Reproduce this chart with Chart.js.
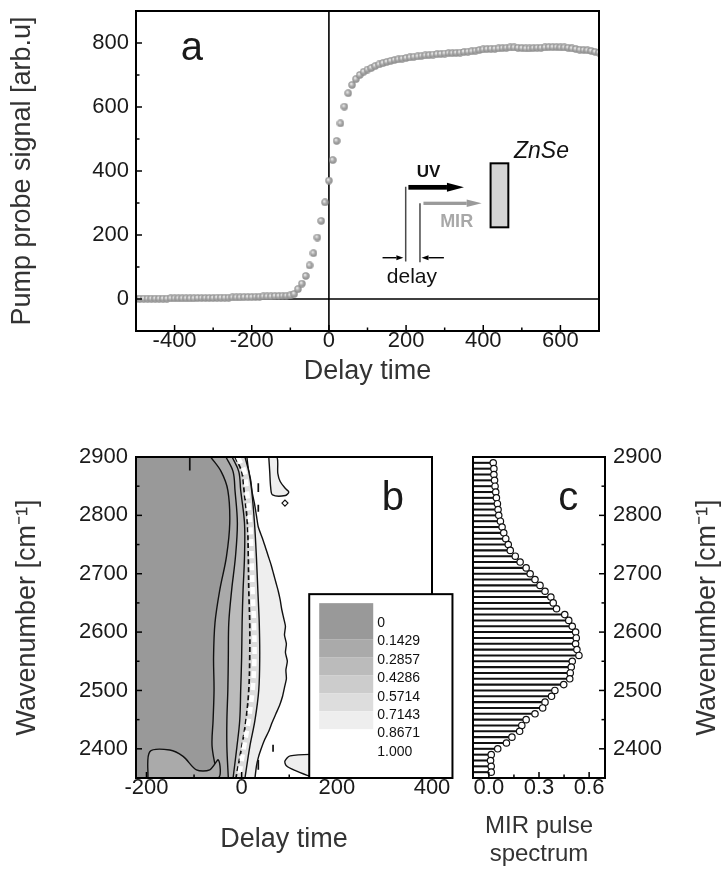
<!DOCTYPE html>
<html>
<head>
<meta charset="utf-8">
<script src="https://cdn.jsdelivr.net/npm/chart.js@4.4.1/dist/chart.umd.min.js"></script>
<style>
  body { margin: 0; background: #fff; }
  #fig { position: relative; width: 724px; height: 869px; }
  #fig canvas { position: absolute; }
</style>
</head>
<body>
<div id="fig">
  <canvas id="pumpProbe" width="724" height="400" style="left:0;top:0;width:724px;height:400px"></canvas>
  <canvas id="contour" width="460" height="469" style="left:0;top:400px;width:460px;height:469px"></canvas>
  <canvas id="spectrum" width="264" height="469" style="left:460px;top:400px;width:264px;height:469px"></canvas>
</div>
<script>
// ---- (a) pump-probe transient ----
const delayA = [-500,-490,-480,-470,-460,-450,-440,-430,-420,-410,-400,-390,-380,-370,-360,-350,-340,-330,-320,-310,
  -300,-290,-280,-270,-260,-250,-240,-230,-220,-210,-200,-190,-180,-170,-160,-150,-140,-130,-120,-110,
  -100,-90,-80,-70,-60,-50,-40,-30,-20,-10,0,10,20,30,40,50,60,70,80,90,
  100,110,120,130,140,150,160,170,180,190,200,210,220,230,240,250,260,270,280,290,
  300,310,320,330,340,350,360,370,380,390,400,410,420,430,440,450,460,470,480,490,
  500,510,520,530,540,550,560,570,580,590,600,610,620,630,640,650,660,670,680,690,700];
const signalA = [1,1,1,1,1,1,1,1,1,2,2,2,2,2,2,2,3,3,3,3,
  3,4,4,4,4,5,5,5,6,6,6,7,7,8,8,8,9,9,10,10,
  11,16,31,48,72,105,143,192,244,302,370,434,494,549,601,643,669,687,700,710,
  717,722,728,733,737,741,744,747,749,751,753,755,757,758,760,761,762,764,765,766,
  767,768,768,769,770,772,773,774,776,778,780,781,782,782,783,784,785,786,786,785,
  784,783,783,784,785,785,786,787,787,787,786,786,785,783,781,779,778,777,775,772,770];
const delayTicksA = [-400, -200, 0, 200, 400, 600];
const signalTicksA = [0, 200, 400, 600, 800];

// ---- (b) contour map ----
const delayTicksB = [-200, 0, 200, 400];
const waveTicks = [2400, 2500, 2600, 2700, 2800, 2900];
// wavenumber rows at which the contour lines were traced
const contourWave = [2900, 2875, 2843, 2787, 2729, 2672, 2616, 2557, 2501, 2449, 2403, 2350];
const level1Delay = [-65, -43, -29, -25, -32, -46, -56, -59, -58, -60, -62, -50];
const level2Delay = [-33, -18, -14, -9, -13, -21, -27, -28, -29, -31, -31, -28];
const level3Delay = [-20, -6, -2, 6, 6, 3, 1, 0, -2, -4, -10, -18];
const level4Delay = [-14, 0, 5, 12, 14, 15, 17, 17, 15, 9, 0, -12];
const ridgeDelay = [-8, 6, 11, 18, 21, 23, 26, 27, 23, 15, 5, -6];
const level5Delay = [7, 15, 21, 27, 31, 34, 37, 38, 36, 28, 17, 7];
const edgeWave = [2900, 2880, 2860, 2840, 2820, 2800, 2780, 2760, 2745, 2730, 2715, 2700, 2685, 2670, 2655, 2640, 2625, 2610,
  2595, 2580, 2565, 2550, 2535, 2520, 2505, 2490, 2475, 2460, 2445, 2430, 2415, 2400, 2385, 2370, 2350];
const edgeDelay = [11, 14, 19, 22, 27, 31, 35, 44, 50, 56, 62, 67, 72, 77, 81, 84, 88, 92,
  90, 94, 92, 96, 93, 94, 90, 86, 80, 72, 64, 57, 48, 41, 35, 31, 28];
const upperIsland = [[57, 2900], [74, 2900], [76, 2872], [81, 2858], [92, 2846], [99, 2840], [92, 2834], [65, 2835], [61, 2848], [59, 2875], [57, 2900]];
const lowerIsland = [[165, 2391], [102, 2388], [91, 2379], [94, 2371], [112, 2363], [144, 2353], [165, 2351], [165, 2391]];
const cornerPatch = [[-197, 2350], [-193, 2395], [-151, 2398], [-123, 2387], [-95, 2364], [-67, 2364], [-49, 2381], [-50, 2350], [-197, 2350]];
const strokes = [[[-109, 2900], [-109, 2877]], [[35, 2855], [35, 2840]], [[35, 2818], [35, 2806]], [[66, 2407], [66, 2395]], [[35, 2381], [35, 2364]]];
const speck = [[91, 2821]];
const levelLabels = ['0', '0.1429', '0.2857', '0.4286', '0.5714', '0.7143', '0.8671', '1.000'];
const levelColors = ['#999999', '#aaaaaa', '#bbbbbb', '#cccccc', '#dddddd', '#eeeeee'];

// ---- (c) MIR pulse spectrum ----
const spectrumWave = [2890, 2880, 2870, 2860, 2850, 2840, 2830, 2820, 2810, 2800, 2790, 2780, 2770, 2760, 2750, 2740, 2730, 2720,
  2710, 2700, 2690, 2680, 2670, 2660, 2650, 2640, 2630, 2620, 2610, 2600, 2590, 2580, 2570, 2560, 2550, 2540,
  2530, 2520, 2510, 2500, 2490, 2480, 2470, 2460, 2450, 2440, 2430, 2420, 2410, 2400, 2390, 2380, 2370, 2360];
const spectrumValue = [0.026, 0.030, 0.030, 0.034, 0.037, 0.041, 0.045, 0.051, 0.055, 0.059, 0.069, 0.079, 0.089, 0.101, 0.116, 0.128, 0.158, 0.187,
  0.223, 0.247, 0.276, 0.306, 0.336, 0.371, 0.385, 0.405, 0.454, 0.478, 0.499, 0.519, 0.523, 0.519, 0.527, 0.539, 0.499, 0.493,
  0.487, 0.484, 0.448, 0.395, 0.375, 0.336, 0.322, 0.276, 0.223, 0.197, 0.184, 0.138, 0.105, 0.053, 0.014, 0.010, 0.014, 0.014];
const spectrumTicks = [0, 0.3, 0.6];

const FONT = "'Liberation Sans', Arial, Helvetica, sans-serif";
Chart.defaults.font.family = FONT;
Chart.defaults.color = '#1a1a1a';

const delayMinB = -222;
const specMin = -0.095;

// shaded grey ball used as the marker in (a)
function makeSphere(d) {
  const c = document.createElement('canvas');
  c.width = d; c.height = d;
  const g = c.getContext('2d');
  const r = d / 2;
  const grad = g.createRadialGradient(r * 0.75, r * 0.7, 0.3, r, r, r);
  grad.addColorStop(0, '#eeeeee');
  grad.addColorStop(0.45, '#ababab');
  grad.addColorStop(1, '#858585');
  g.fillStyle = grad;
  g.beginPath();
  g.arc(r, r, r - 0.3, 0, Math.PI * 2);
  g.fill();
  return c;
}

function linearAxis(min, max, values, fmt, pad, extra) {
  const fit = extra.afterFit;
  return Object.assign({
    type: 'linear', min, max, offset: false,
    afterBuildTicks: s => { s.ticks = values.map(v => ({ value: v })); },
    grid: { display: false, drawTicks: false, offset: false },
    border: { display: false },
    ticks: { font: { size: 22, lineHeight: 1 }, color: '#1a1a1a', autoSkip: false, maxRotation: 0, padding: pad, callback: fmt }
  }, extra, {
    // keep the plot box where the layout puts it
    afterFit: s => {
      fit(s);
      s.paddingTop = 0; s.paddingBottom = 0; s.paddingLeft = 0; s.paddingRight = 0;
    }
  });
}

function axisTitle(text, padding, size) {
  return { display: true, text, color: '#333', font: { size: size || 27 }, padding };
}

const asLabel = v => String(v);

// box, inward ticks and optional zero lines
const framePlugin = {
  id: 'frame',
  beforeDatasetsDraw(chart, args, opts) {
    if (!opts.zeroLines) return;
    const { ctx, chartArea: a, scales: { x, y } } = chart;
    ctx.save();
    ctx.strokeStyle = '#000';
    ctx.lineWidth = 1.6;
    const px = x.getPixelForValue(0), py = y.getPixelForValue(0);
    ctx.beginPath();
    ctx.moveTo(px, a.top); ctx.lineTo(px, a.bottom);
    ctx.moveTo(a.left, py); ctx.lineTo(a.right, py);
    ctx.stroke();
    ctx.restore();
  },
  afterDatasetsDraw(chart, args, opts) {
    const { ctx, chartArea: a, scales: { x, y } } = chart;
    ctx.save();
    ctx.strokeStyle = '#000';
    ctx.lineWidth = 1.5;
    const marks = (scale, values, len) => {
      values.forEach(v => {
        const p = scale.getPixelForValue(v);
        ctx.beginPath();
        if (scale.isHorizontal()) { ctx.moveTo(p, a.bottom); ctx.lineTo(p, a.bottom - len); }
        else if (scale.position === 'right') { ctx.moveTo(a.right, p); ctx.lineTo(a.right - len, p); }
        else { ctx.moveTo(a.left, p); ctx.lineTo(a.left + len, p); }
        ctx.stroke();
      });
    };
    marks(x, x.ticks.map(t => t.value), 6);
    marks(x, opts.minorX || [], 3.5);
    marks(y, y.ticks.map(t => t.value), 6);
    marks(y, opts.minorY || [], 3.5);
    ctx.lineWidth = 2;
    ctx.strokeRect(a.left, a.top, a.right - a.left, a.bottom - a.top);
    ctx.restore();
  }
};

// big panel letter
const letterPlugin = {
  id: 'letter',
  afterDraw(chart, args, opts) {
    const { ctx, scales: { x, y } } = chart;
    ctx.save();
    ctx.font = '40px ' + FONT;
    ctx.fillStyle = '#1a1a1a';
    ctx.textAlign = 'center';
    ctx.textBaseline = 'alphabetic';
    ctx.fillText(opts.text, x.getPixelForValue(opts.at[0]), y.getPixelForValue(opts.at[1]));
    ctx.restore();
  }
};

function arrow(ctx, x0, x1, y, shaft, head, headLen, color) {
  const dir = Math.sign(x1 - x0);
  const xb = x1 - dir * headLen;
  ctx.fillStyle = color;
  ctx.fillRect(Math.min(x0, xb), y - shaft / 2, Math.abs(xb - x0), shaft);
  ctx.beginPath();
  ctx.moveTo(x1, y);
  ctx.lineTo(xb, y - head / 2);
  ctx.lineTo(xb, y + head / 2);
  ctx.closePath();
  ctx.fill();
}

// UV / MIR beam sketch inside (a)
const setupPlugin = {
  id: 'setup',
  afterDraw(chart) {
    const { ctx, scales: { x, y } } = chart;
    const X = v => x.getPixelForValue(v), Y = v => y.getPixelForValue(v);
    ctx.save();
    // sample plate
    ctx.fillStyle = '#d4d4d4';
    ctx.fillRect(X(419), Y(424), X(465) - X(419), Y(224) - Y(424));
    ctx.strokeStyle = '#000';
    ctx.lineWidth = 2;
    ctx.strokeRect(X(419), Y(424), X(465) - X(419), Y(224) - Y(424));
    // pulse fronts
    ctx.strokeStyle = '#4a4a4a';
    ctx.lineWidth = 1.5;
    ctx.beginPath();
    ctx.moveTo(X(199), Y(351)); ctx.lineTo(X(199), Y(117));
    ctx.moveTo(X(236), Y(299)); ctx.lineTo(X(236), Y(115));
    ctx.stroke();
    arrow(ctx, X(206), X(350), Y(349), 4.7, 9, 17, '#000');
    arrow(ctx, X(245), X(396), Y(299), 3.3, 7.5, 15, '#9a9a9a');
    arrow(ctx, X(139), X(193), Y(129), 1.4, 5, 7, '#000');
    arrow(ctx, X(298), X(240), Y(129), 1.4, 5, 7, '#000');
    ctx.textAlign = 'center';
    ctx.textBaseline = 'alphabetic';
    ctx.fillStyle = '#111';
    ctx.font = 'bold 17px ' + FONT;
    ctx.fillText('UV', X(258), Y(382));
    ctx.fillStyle = '#a8a8a8';
    ctx.font = 'bold 18px ' + FONT;
    ctx.fillText('MIR', X(331), Y(226));
    ctx.fillStyle = '#111';
    ctx.font = '21px ' + FONT;
    ctx.fillText('delay', X(215), Y(50));
    ctx.font = 'italic 23px ' + FONT;
    ctx.fillText('ZnSe', X(551), Y(440));
    ctx.restore();
  }
};

// level key of (b)
const levelsPlugin = {
  id: 'levels',
  afterDraw(chart, args, opts) {
    const { ctx, chartArea: area, scales: { x, y } } = chart;
    const left = x.getPixelForValue(opts.left), right = x.getPixelForValue(opts.right);
    const top = y.getPixelForValue(opts.top), bottom = area.bottom;
    ctx.save();
    ctx.fillStyle = '#fff';
    ctx.fillRect(left, top, right - left, bottom - top);
    let sy = top + 9;
    levelColors.forEach((c, i) => {
      const h = i === 0 ? 36 : 18;
      ctx.fillStyle = c;
      ctx.fillRect(left + 10, sy, 54, h);
      sy += h;
    });
    ctx.fillStyle = '#111';
    ctx.font = "14px 'Liberation Sans Narrow', " + FONT;
    ctx.textBaseline = 'middle';
    levelLabels.forEach((t, i) => ctx.fillText(t, left + 68, top + 29 + i * 18.4));
    ctx.strokeStyle = '#000';
    ctx.lineWidth = 2;
    ctx.strokeRect(left, top, right - left, bottom - top);
    ctx.restore();
  }
};

// right-hand axis title of (c), reading upwards like the left one
const sideTitlePlugin = {
  id: 'sideTitle',
  afterDraw(chart, args, opts) {
    const { ctx, chartArea: a, width } = chart;
    ctx.save();
    ctx.font = '27px ' + FONT;
    ctx.fillStyle = '#333';
    ctx.textAlign = 'center';
    ctx.textBaseline = 'middle';
    ctx.translate(width - opts.inset, (a.top + a.bottom) / 2);
    ctx.rotate(-Math.PI / 2);
    ctx.fillText(opts.text, 0, 0);
    ctx.restore();
  }
};

const common = { responsive: false, animation: false, devicePixelRatio: 1, events: [] };

// ---------- (a) ----------
new Chart(document.getElementById('pumpProbe'), {
  type: 'scatter',
  data: {
    datasets: [{
      data: delayA.map((t, i) => ({ x: t, y: signalA[i] })),
      pointStyle: makeSphere(8),
      pointRadius: 4
    }]
  },
  options: Object.assign({}, common, {
    layout: { padding: { left: 0, top: 11, right: 125, bottom: 0 } },
    plugins: {
      legend: { display: false },
      tooltip: { enabled: false },
      frame: { zeroLines: true, minorX: [-300, -100, 100, 300, 500], minorY: [100, 300, 500, 700] },
      letter: { text: 'a', at: [-355, 747] }
    },
    scales: {
      x: linearAxis(-500, 700, delayTicksA, asLabel, -1, {
        afterFit: s => { s.height = 69; },
        title: axisTitle('Delay time', { bottom: 12 })
      }),
      y: linearAxis(-100, 900, signalTicksA, asLabel, 7, {
        afterFit: s => { s.width = 136; },
        title: axisTitle('Pump probe signal [arb.u]', { top: 6 })
      })
    }
  }),
  plugins: [framePlugin, setupPlugin, letterPlugin]
});

// ---------- (b) ----------
function contourLine(delays, waves, fillColor, order, extra) {
  return Object.assign({
    type: 'line',
    indexAxis: 'y',
    data: waves.map((w, i) => ({ x: delays[i], y: w })),
    borderColor: '#111',
    borderWidth: 1.4,
    backgroundColor: fillColor || 'transparent',
    fill: fillColor ? { value: delayMinB } : false,
    pointRadius: 0,
    tension: 0.35,
    order
  }, extra);
}
function patch(pts, fillColor, order) {
  return {
    type: 'line',
    indexAxis: 'y',
    data: pts.map(([t, w]) => ({ x: t, y: w })),
    borderColor: '#111',
    borderWidth: 1.4,
    backgroundColor: fillColor,
    fill: 'shape',
    pointRadius: 0,
    tension: 0.3,
    order
  };
}

const contourSets = [
  contourLine(edgeDelay, edgeWave, '#eeeeee', 20, { tension: 0.2 }),
  patch(upperIsland, '#eeeeee', 19),
  patch(lowerIsland, '#eeeeee', 19),
  contourLine(level5Delay, contourWave, '#dddddd', 18),
  contourLine(level4Delay, contourWave, '#cccccc', 17, { borderDash: [5, 3], borderWidth: 1.7 }),
  contourLine(level3Delay, contourWave, '#bbbbbb', 16),
  contourLine(level2Delay, contourWave, '#aaaaaa', 15),
  contourLine(level1Delay, contourWave, '#999999', 14),
  patch(cornerPatch, '#aaaaaa', 13),
  contourLine(ridgeDelay, contourWave, null, 12, { borderColor: '#ffffff', borderWidth: 4.5, borderDash: [7, 5] })
];
strokes.forEach(seg => contourSets.push({
  type: 'line', indexAxis: 'y',
  data: seg.map(([t, w]) => ({ x: t, y: w })),
  borderColor: '#111', borderWidth: 1.7, pointRadius: 0, fill: false, order: 2
}));
contourSets.push({
  type: 'scatter',
  data: speck.map(([t, w]) => ({ x: t, y: w })),
  pointStyle: 'rectRot', pointRadius: 3, borderColor: '#111', borderWidth: 1.2, backgroundColor: '#fff', order: 1
});

new Chart(document.getElementById('contour'), {
  type: 'scatter',
  data: { datasets: contourSets },
  options: Object.assign({}, common, {
    layout: { padding: { left: 0, top: 57, right: 28, bottom: 0 } },
    plugins: {
      legend: { display: false },
      tooltip: { enabled: false },
      frame: { minorX: [-100, 100, 300], minorY: [2450, 2550, 2650, 2750, 2850] },
      levels: { left: 142, right: 443, top: 2665 },
      letter: { text: 'b', at: [318, 2809] }
    },
    scales: {
      x: linearAxis(delayMinB, 400, delayTicksB, asLabel, -1, {
        afterFit: s => { s.height = 91; },
        title: axisTitle('Delay time', { bottom: 13 })
      }),
      y: linearAxis(2350, 2900, waveTicks, asLabel, 8, {
        afterFit: s => { s.width = 136; },
        title: axisTitle('Wavenumber [cm\u207B\u00B9]', { top: 11 })
      })
    }
  }),
  plugins: [framePlugin, letterPlugin, levelsPlugin]
});

// ---------- (c) ----------
new Chart(document.getElementById('spectrum'), {
  type: 'scatter',
  data: {
    datasets: [{
      type: 'scatter',
      data: spectrumWave.map((w, i) => ({ x: spectrumValue[i], y: w })),
      pointStyle: 'circle',
      pointRadius: 3.2,
      borderColor: '#111',
      borderWidth: 1.2,
      backgroundColor: '#ffffff',
      order: 0
    }, {
      type: 'bar',
      indexAxis: 'y',
      data: spectrumWave.map((w, i) => ({ x: spectrumValue[i], y: w })),
      base: specMin,
      barThickness: 1.4,
      backgroundColor: '#111',
      order: 1
    }]
  },
  options: Object.assign({}, common, {
    layout: { padding: { left: 13, top: 57, right: 0, bottom: 0 } },
    plugins: {
      legend: { display: false },
      tooltip: { enabled: false },
      frame: { minorX: [0.15, 0.45], minorY: [2450, 2550, 2650, 2750, 2850] },
      letter: { text: 'c', at: [0.475, 2809] },
      sideTitle: { text: 'Wavenumber [cm\u207B\u00B9]', inset: 16 }
    },
    scales: {
      x: linearAxis(specMin, 0.695, spectrumTicks, v => v.toFixed(1), -1, {
        afterFit: s => { s.height = 91; },
        title: { display: true, text: ['MIR pulse', 'spectrum'], color: '#333', font: { size: 24, lineHeight: 1.15 }, padding: { bottom: 1 } }
      }),
      y: linearAxis(2350, 2900, waveTicks, asLabel, 8, {
        position: 'right',
        afterFit: s => { s.width = 119; }
      })
    }
  }),
  plugins: [framePlugin, letterPlugin, sideTitlePlugin]
});
</script>
</body>
</html>
